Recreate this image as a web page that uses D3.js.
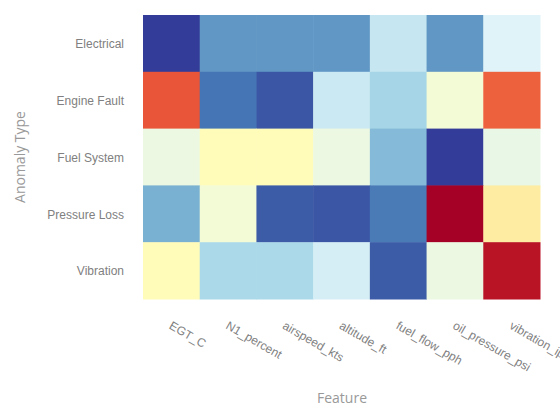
<!DOCTYPE html>
<html>
<head>
<meta charset="utf-8">
<script src="https://cdn.jsdelivr.net/npm/d3@7"></script>
<style>
  html, body { margin: 0; padding: 0; background: #fff; }
  svg { display: block; font-family: "Open Sans", "Noto Sans", sans-serif; }
</style>
</head>
<body>
<svg id="chart" width="560" height="407"></svg>
<script>
// ---- data ----
const anomalyTypes = ["Electrical", "Engine Fault", "Fuel System", "Pressure Loss", "Vibration"];
const features = ["EGT_C", "N1_percent", "airspeed_kts", "altitude_ft", "fuel_flow_pph", "oil_pressure_psi", "vibration_ips"];
// normalized feature means per anomaly type (0 = lowest, 1 = highest)
const electrical    = [0.01, 0.16, 0.16, 0.16, 0.35, 0.16, 0.40];
const engineFault   = [0.84, 0.10, 0.05, 0.36, 0.29, 0.46, 0.82];
const fuelSystem    = [0.44, 0.51, 0.51, 0.44, 0.23, 0.01, 0.43];
const pressureLoss  = [0.21, 0.46, 0.06, 0.05, 0.11, 1.00, 0.56];
const vibration     = [0.51, 0.30, 0.30, 0.38, 0.06, 0.44, 0.96];
const values = [electrical, engineFault, fuelSystem, pressureLoss, vibration];

// RdYlBu reversed palette
const palette = ["rgb(49,54,149)", "rgb(69,117,180)", "rgb(116,173,209)", "rgb(171,217,233)",
  "rgb(224,243,248)", "rgb(255,255,191)", "rgb(254,224,144)", "rgb(253,174,97)",
  "rgb(244,109,67)", "rgb(215,48,39)", "rgb(165,0,38)"];

// ---- layout ----
const svg = d3.select("#chart");
const margin = { left: 143, top: 15, right: 20, bottom: 108 };
const plotW = 397, plotH = 284;

const x = d3.scaleBand().domain(features).range([margin.left, margin.left + plotW]).padding(0);
const y = d3.scaleBand().domain(anomalyTypes).range([margin.top, margin.top + plotH]).padding(0);
const color = d3.scaleLinear()
  .domain(d3.range(palette.length).map(i => i / (palette.length - 1)))
  .range(palette)
  .interpolate(d3.interpolateRgb);

const cells = [];
anomalyTypes.forEach((a, i) => features.forEach((f, j) => cells.push({ a, f, v: values[i][j] })));

svg.append("g").selectAll("rect").data(cells).join("rect")
  .attr("x", d => x(d.f))
  .attr("y", d => y(d.a))
  .attr("width", x.bandwidth() + 0.5)
  .attr("height", y.bandwidth() + 0.5)
  .attr("fill", d => color(d.v));

// y axis
const yAxis = d3.axisLeft(y).tickSize(0).tickPadding(19);
const gy = svg.append("g").attr("transform", `translate(${margin.left},1)`).call(yAxis);
gy.select(".domain").remove();
gy.selectAll("text").attr("fill", "#808080").style("font-size", "12px");

// x axis
const xAxis = d3.axisBottom(x).tickSize(0).tickPadding(0);
const gx = svg.append("g").attr("transform", `translate(0,${margin.top + plotH})`).call(xAxis);
gx.select(".domain").remove();
gx.selectAll("text")
  .attr("fill", "#808080")
  .style("font-size", "12px")
  .attr("text-anchor", "start")
  .attr("dy", null)
  .attr("y", 0)
  .attr("transform", "translate(-3,29) rotate(30)");

// axis titles
svg.append("text")
  .attr("x", 342).attr("y", 403)
  .attr("text-anchor", "middle")
  .attr("fill", "#999")
  .style("font-size", "14px")
  .text("Feature");

svg.append("text")
  .attr("transform", `translate(25,${margin.top + plotH / 2}) rotate(-90)`)
  .attr("text-anchor", "middle")
  .attr("fill", "#999")
  .style("font-size", "14px")
  .text("Anomaly Type");
</script>
</body>
</html>
